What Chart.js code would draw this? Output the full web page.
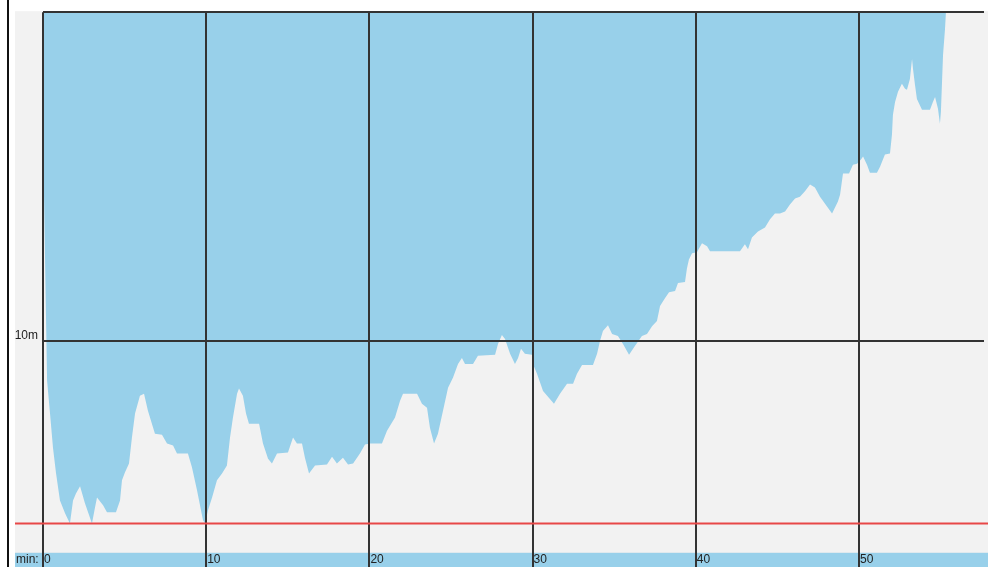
<!DOCTYPE html>
<html>
<head>
<meta charset="utf-8">
<script src="https://cdn.jsdelivr.net/npm/chart.js@4/dist/chart.umd.min.js"></script>
<style>
html,body{margin:0;padding:0;background:#fff;}
#wrap{width:988px;height:567px;position:relative;}
</style>
</head>
<body>
<div id="wrap"><canvas id="prof"></canvas></div>
<script>
// dive profile: time in minutes, depth in metres
const times=[0,0.06,0.18,0.25,0.43,0.61,0.80,1.04,1.35,1.65,1.84,2.02,2.27,2.57,3.00,3.19,3.31,3.68,3.92,4.47,4.72,4.84,5.02,5.27,5.45,5.64,5.94,6.19,6.43,6.86,7.29,7.60,7.97,8.21,8.88,9.13,9.44,9.80,9.93,
  10.11,10.36,10.66,10.97,11.27,11.46,11.64,11.89,12.01,12.25,12.44,12.62,13.24,13.48,13.79,14.03,14.34,15.01,15.32,15.56,15.87,16.05,16.30,16.67,17.40,17.71,18.01,18.38,18.69,19.00,19.42,19.73,
  20.04,20.77,21.08,21.57,21.88,22.06,22.92,23.22,23.53,23.71,23.96,24.20,24.51,24.82,25.12,25.43,25.67,25.86,26.35,26.65,27.70,27.88,28.12,28.31,28.62,28.92,29.11,29.29,29.53,29.96,
  30.02,30.27,30.64,31.31,31.68,32.11,32.48,32.72,33.03,33.70,33.95,34.13,34.31,34.62,34.87,35.23,35.54,35.91,36.27,36.70,37.01,37.32,37.62,37.81,38.11,38.36,38.73,38.91,39.34,39.46,39.58,39.77,
  40.07,40.38,40.69,40.87,42.71,43.01,43.20,43.44,43.81,44.24,44.55,44.85,45.16,45.47,45.77,46.08,46.38,46.69,47.00,47.30,47.61,48.04,48.35,48.71,48.84,49.02,49.39,49.63,49.88,
  50.12,50.25,50.49,50.67,51.10,51.29,51.59,51.90,52.02,52.08,52.21,52.39,52.63,52.82,52.94,53.12,53.25,53.31,53.43,53.55,53.86,54.35,54.53,54.66,54.84,54.96,55.02,55.15,55.27,55.33];
const depths=[0,5.52,9.18,11.21,12.21,13.24,14.03,14.85,15.24,15.55,14.85,14.64,14.42,14.94,15.55,15.06,14.76,15.00,15.21,15.21,14.85,14.24,14.00,13.73,12.94,12.21,11.67,11.61,12.12,12.82,12.85,13.12,13.18,13.42,13.42,13.85,14.55,15.45,15.55,
  15.15,14.76,14.24,14.03,13.79,12.94,12.33,11.61,11.45,11.67,12.21,12.52,12.52,13.12,13.58,13.73,13.42,13.39,12.94,13.12,13.12,13.55,14.03,13.79,13.76,13.52,13.73,13.55,13.76,13.73,13.42,13.15,
  13.12,13.12,12.73,12.33,11.82,11.61,11.61,11.91,12.03,12.64,13.12,12.82,12.12,11.42,11.12,10.70,10.52,10.70,10.70,10.45,10.42,10.09,9.82,9.94,10.39,10.70,10.52,10.24,10.39,10.42,
  10.70,11.00,11.52,11.91,11.61,11.30,11.30,11.00,10.73,10.73,10.39,10.00,9.70,9.52,9.79,9.85,10.09,10.42,10.15,9.85,9.79,9.55,9.39,8.94,8.70,8.52,8.48,8.24,8.21,7.79,7.52,7.33,
  7.30,7.03,7.12,7.27,7.27,7.06,7.21,6.85,6.67,6.55,6.30,6.12,6.12,6.06,5.85,5.67,5.61,5.45,5.24,5.33,5.61,5.91,6.12,5.76,5.55,4.91,4.91,4.64,4.61,
  4.48,4.39,4.64,4.88,4.88,4.70,4.33,4.30,3.73,3.12,2.73,2.42,2.18,2.33,2.36,2.03,1.42,1.73,2.21,2.64,2.97,2.97,2.73,2.58,2.94,3.39,3.03,1.30,0.52,0];
const timeTicks=[0,10,20,30,40,50];
const depthTicks=[0,10];
const maxDepth=15.55;
const timeMax=57.66, depthMax=16.42;

const BLUE='#98d0ea', GREY='#f2f2f2', GRID='#333';
const FONT={family:'"Liberation Sans", Arial, sans-serif',size:12};

const backdrop={
  id:'backdrop',
  beforeDraw(c){
    const {ctx,width,height,chartArea:a}=c;
    ctx.save();
    ctx.fillStyle='#fff'; ctx.fillRect(0,0,width,height);
    ctx.fillStyle='#111'; ctx.fillRect(7,0,2,height);
    ctx.fillStyle=GREY; ctx.fillRect(15,a.top-1,width-15,a.bottom-a.top+1);
    ctx.fillStyle=BLUE; ctx.fillRect(15,a.bottom,width-15,height-a.bottom);
    ctx.fillStyle='#dfe9ee'; ctx.fillRect(15,a.bottom,width-15,1);
    ctx.restore();
  },
  afterDraw(c){
    const {ctx,width,chartArea:a}=c;
    const y=c.scales.y.getPixelForValue(maxDepth);
    ctx.save();
    ctx.strokeStyle='#e84848'; ctx.lineWidth=2;
    ctx.beginPath(); ctx.moveTo(15,y); ctx.lineTo(width,y); ctx.stroke();
    ctx.fillStyle='#222'; ctx.font='12px '+FONT.family; ctx.textBaseline='middle';
    ctx.fillText('min:',16,a.bottom+8);
    ctx.restore();
  }
};

new Chart(document.getElementById('prof'),{
  type:'line',
  data:{datasets:[{
    data:times.map((t,i)=>({x:t,y:depths[i]})),
    fill:'origin', backgroundColor:BLUE, borderColor:'transparent', borderWidth:0,
    pointRadius:0, tension:0
  }]},
  options:{
    responsive:true, maintainAspectRatio:false, animation:false,
    layout:{padding:{left:15,right:4,top:10,bottom:0}},
    plugins:{legend:{display:false},tooltip:{enabled:false}},
    scales:{
      x:{
        type:'linear', min:0, max:timeMax,
        afterBuildTicks(s){ s.ticks=timeTicks.map(v=>({value:v})); },
        afterFit(s){ s.height=15; },
        border:{display:false},
        grid:{z:1,color:GRID,lineWidth:2,drawTicks:true,tickLength:15},
        ticks:{z:1,align:'start',labelOffset:1,padding:-15,color:'#222',font:FONT,maxRotation:0,autoSkip:false}
      },
      y:{
        type:'linear', reverse:true, min:0, max:depthMax,
        afterBuildTicks(s){ s.ticks=depthTicks.map(v=>({value:v})); },
        afterFit(s){ s.width=28; },
        border:{display:false},
        grid:{z:1,color:GRID,lineWidth:2,drawTicks:false},
        ticks:{z:1,padding:5,labelOffset:-5,color:'#222',font:FONT,callback:v=>v===0?'':v+'m'}
      }
    }
  },
  plugins:[backdrop]
});
</script>
</body>
</html>
